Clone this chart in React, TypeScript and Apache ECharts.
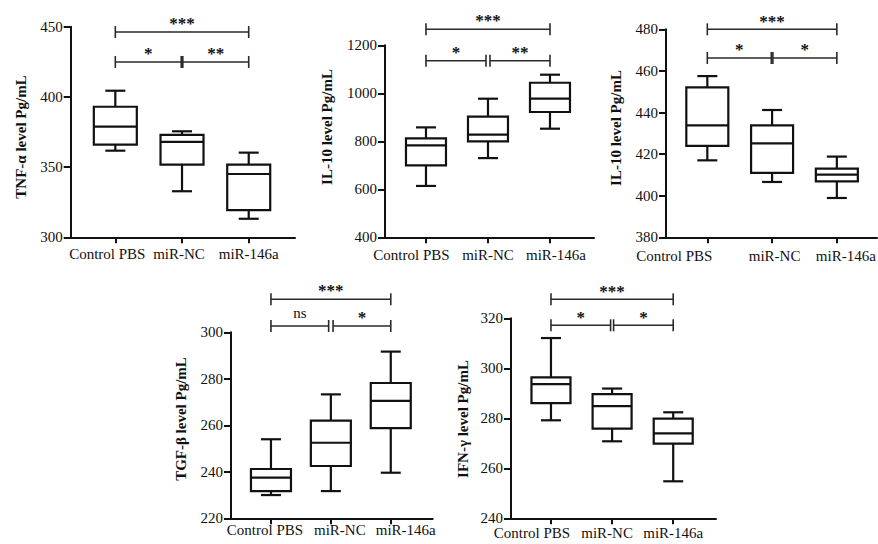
import React, { useEffect, useRef } from 'react';
import * as echarts from 'echarts';

// ---------- data ----------
const categories = ['Control PBS', 'miR-NC', 'miR-146a'];
const categoryIndex = [0, 1, 2];

// each row: [min, Q1, median, Q3, max]
const tnfAlpha = [
  [361.7, 366, 378.8, 393, 404.4],
  [332.8, 351.7, 367.9, 372.9, 375.5],
  [313.2, 319.4, 345.1, 351.7, 360.3],
];
const il10First = [
  [614, 700, 783, 812.5, 858],
  [730, 800, 827.5, 902.5, 977.5],
  [852.5, 922, 977.5, 1044, 1077.5],
];
const il10Second = [
  [417, 424, 433.8, 452.1, 457.5],
  [406.6, 411, 425.2, 433.8, 441.2],
  [398.9, 406.9, 410.1, 413, 418.8],
];
const tgfBeta = [
  [230, 231.7, 237.5, 241.2, 254],
  [231.7, 242.5, 252.5, 262, 273.3],
  [239.6, 258.8, 270.5, 278.2, 291.7],
];
const ifnGamma = [
  [279.2, 286.1, 293.7, 296.4, 312.1],
  [270.8, 275.9, 284.9, 289.7, 291.9],
  [254.8, 269.9, 274, 279.9, 282.4],
];

// y axis: [min, max, interval]
const tnfAlphaAxis = [300, 450, 50];
const il10FirstAxis = [400, 1200, 200];
const il10SecondAxis = [380, 480, 20];
const tgfBetaAxis = [220, 300, 20];
const ifnGammaAxis = [240, 320, 20];

// significance brackets: [fromCategory, toCategory, yValue]
const tnfAlphaSig = [[0, 2, 446.2], [0, 1, 424.9], [1, 2, 424.9]];
const tnfAlphaSigLabels = ['***', '*', '**'];
const il10FirstSig = [[0, 2, 1266.7], [0, 1, 1135.8], [1, 2, 1135.8]];
const il10FirstSigLabels = ['***', '*', '**'];
const il10SecondSig = [[0, 2, 480], [0, 1, 466.2], [1, 2, 466.2]];
const il10SecondSigLabels = ['***', '*', '*'];
const tgfBetaSig = [[0, 2, 314.2], [0, 1, 302.7], [1, 2, 302.7]];
const tgfBetaSigLabels = ['***', 'ns', '*'];
const ifnGammaSig = [[0, 2, 327.6], [0, 1, 317.2], [1, 2, 317.2]];
const ifnGammaSigLabels = ['***', '*', '*'];

const titles = ['TNF-α level Pg/mL', 'IL-10 level Pg/mL', 'IL-10 level Pg/mL', 'TGF-β level Pg/mL', 'IFN-γ level Pg/mL'];

// ---------- layout (positions / styles only) ----------
const layouts = [
  { left: 70.7, top: 26.7, width: 224.3, height: 210.6, xMin: -0.669, xMax: 2.694, boxW: 43, gap: 0.8, titleX: 20.5, titleY: 137, labelDx: [-8, -3, 0], labelDy: 16.5 },
  { left: 385, top: 45.3, width: 209, height: 192, xMin: -0.661, xMax: 2.71, boxW: 40, gap: 2, titleX: 326.5, titleY: 127, labelDx: [-14.5, 0, 6], labelDy: 17.5 },
  { left: 666, top: 29.3, width: 211, height: 208, xMin: -0.638, xMax: 2.62, boxW: 42, gap: 0.8, titleX: 616, titleY: 128, labelDx: [-33, 2.5, 9], labelDy: 19 },
  { left: 231, top: 332.3, width: 201.7, height: 186, xMin: -0.667, xMax: 2.7, boxW: 40, gap: 2.2, titleX: 181, titleY: 419, labelDx: [-6, 9, 15], labelDy: 11.5 },
  { left: 511, top: 318.3, width: 205, height: 200, xMin: -0.654, xMax: 2.7, boxW: 39, gap: 1.5, titleX: 463, titleY: 419, labelDx: [-19, -5, 0], labelDy: 15 },
];

const panels = [
  { stats: tnfAlpha, axis: tnfAlphaAxis, sig: tnfAlphaSig, sigLabels: tnfAlphaSigLabels },
  { stats: il10First, axis: il10FirstAxis, sig: il10FirstSig, sigLabels: il10FirstSigLabels },
  { stats: il10Second, axis: il10SecondAxis, sig: il10SecondSig, sigLabels: il10SecondSigLabels },
  { stats: tgfBeta, axis: tgfBetaAxis, sig: tgfBetaSig, sigLabels: tgfBetaSigLabels },
  { stats: ifnGamma, axis: ifnGammaAxis, sig: ifnGammaSig, sigLabels: ifnGammaSigLabels },
];

const INK = '#111';
const FONT = '"Liberation Serif", "Times New Roman", serif';

function buildOption() {
  const grid: any[] = [];
  const xAxis: any[] = [];
  const yAxis: any[] = [];
  const series: any[] = [];

  panels.forEach((p, i) => {
    const L = layouts[i];
    grid.push({ left: L.left, top: L.top, width: L.width, height: L.height, containLabel: false });
    xAxis.push({
      gridIndex: i,
      type: 'value',
      min: L.xMin,
      max: L.xMax,
      splitLine: { show: false },
      axisLine: { show: true, onZero: false, lineStyle: { color: INK, width: 2 } },
      axisTick: { show: true, customValues: categoryIndex, length: 6, lineStyle: { color: INK, width: 2 } },
      axisLabel: { show: false },
    });
    yAxis.push({
      gridIndex: i,
      type: 'value',
      min: p.axis[0],
      max: p.axis[1],
      interval: p.axis[2],
      splitLine: { show: false },
      axisLine: { show: true, onZero: false, lineStyle: { color: INK, width: 2 } },
      axisTick: { show: true, length: 7, lineStyle: { color: INK, width: 2 } },
      axisLabel: { margin: 8, color: INK, fontSize: 15, fontFamily: FONT, formatter: (v: number) => String(v) },
    });

    const boxW = L.boxW;
    const capW = 20;
    series.push({
      type: 'custom',
      name: 'box' + i,
      xAxisIndex: i,
      yAxisIndex: i,
      clip: false,
      encode: { x: 0, y: [1, 2, 3, 4, 5] },
      data: p.stats.map((s, k) => [categoryIndex[k], ...s]),
      renderItem: (params: any, api: any) => {
        const x = api.value(0);
        const pMin = api.coord([x, api.value(1)]);
        const pQ1 = api.coord([x, api.value(2)]);
        const pMed = api.coord([x, api.value(3)]);
        const pQ3 = api.coord([x, api.value(4)]);
        const pMax = api.coord([x, api.value(5)]);
        const cx = pMin[0];
        const hw = boxW / 2;
        const cw = capW / 2;
        const st = { stroke: INK, lineWidth: 2.2, fill: null };
        return {
          type: 'group',
          children: [
            { type: 'line', shape: { x1: cx, y1: pQ3[1], x2: cx, y2: pMax[1] }, style: st },
            { type: 'line', shape: { x1: cx, y1: pQ1[1], x2: cx, y2: pMin[1] }, style: st },
            { type: 'line', shape: { x1: cx - cw, y1: pMax[1], x2: cx + cw, y2: pMax[1] }, style: st },
            { type: 'line', shape: { x1: cx - cw, y1: pMin[1], x2: cx + cw, y2: pMin[1] }, style: st },
            { type: 'rect', shape: { x: cx - hw, y: pQ3[1], width: boxW, height: pQ1[1] - pQ3[1] }, style: { stroke: INK, lineWidth: 2.2, fill: '#fff' } },
            { type: 'line', shape: { x1: cx - hw, y1: pMed[1], x2: cx + hw, y2: pMed[1] }, style: st },
          ],
        };
      },
    });

    // category labels under the x axis
    series.push({
      type: 'custom',
      name: 'cat' + i,
      xAxisIndex: i,
      yAxisIndex: i,
      clip: false,
      silent: true,
      encode: { x: 0, y: 1 },
      data: categoryIndex.map((k) => [k, p.axis[0]]),
      renderItem: (params: any, api: any) => {
        const k = params.dataIndex;
        const pt = api.coord([api.value(0), api.value(1)]);
        return {
          type: 'text',
          x: pt[0] + L.labelDx[k],
          y: pt[1] + L.labelDy,
          style: {
            text: categories[k],
            fill: INK,
            fontSize: 15,
            fontFamily: FONT,
            align: 'center',
            verticalAlign: 'middle',
          },
        };
      },
    });

    const gap = L.gap;
    series.push({
      type: 'custom',
      name: 'sig' + i,
      xAxisIndex: i,
      yAxisIndex: i,
      clip: false,
      encode: { x: [0, 1], y: 2 },
      data: p.sig,
      renderItem: (params: any, api: any) => {
        const a = api.coord([api.value(0), api.value(2)]);
        const b = api.coord([api.value(1), api.value(2)]);
        const isTop = api.value(1) - api.value(0) > 1.5;
        let x1 = a[0];
        let x2 = b[0];
        if (!isTop) {
          if (api.value(1) === 1) x2 -= gap;
          if (api.value(0) === 1) x1 += gap;
        }
        const y = a[1];
        const st = { stroke: '#2a2a2a', lineWidth: 1.6 };
        const label = p.sigLabels[params.dataIndex];
        const isStar = label.indexOf('*') >= 0;
        return {
          type: 'group',
          children: [
            { type: 'line', shape: { x1, y1: y, x2, y2: y }, style: st },
            { type: 'line', shape: { x1, y1: y - 6, x2: x1, y2: y + 6 }, style: st },
            { type: 'line', shape: { x1: x2, y1: y - 6, x2, y2: y + 6 }, style: st },
            {
              type: 'text',
              x: (x1 + x2) / 2,
              y: isStar ? y - 8.3 : y - 13.2,
              style: {
                text: label,
                fill: INK,
                fontSize: isStar ? 17 : 15,
                fontWeight: isStar ? 'bold' : 'normal',
                fontFamily: FONT,
                align: 'center',
                verticalAlign: 'middle',
              },
            },
          ],
        };
      },
    });
  });

  const graphic = layouts.map((L, i) => ({
    type: 'text',
    x: L.titleX,
    y: L.titleY,
    rotation: Math.PI / 2,
    style: {
      text: titles[i],
      fill: INK,
      fontSize: 15,
      fontWeight: 'bold',
      fontFamily: FONT,
      align: 'center',
      verticalAlign: 'middle',
    },
  }));

  return {
    animation: false,
    backgroundColor: '#fff',
    grid,
    xAxis,
    yAxis,
    series,
    graphic,
  };
}

export default function App() {
  const ref = useRef<HTMLDivElement>(null);
  useEffect(() => {
    if (!ref.current) return;
    const chart = echarts.init(ref.current, undefined, { renderer: 'svg' });
    chart.setOption(buildOption() as any);
    return () => chart.dispose();
  }, []);
  return <div ref={ref} style={{ position: 'absolute', left: 0, top: 0, width: 878, height: 544 }} />;
}
